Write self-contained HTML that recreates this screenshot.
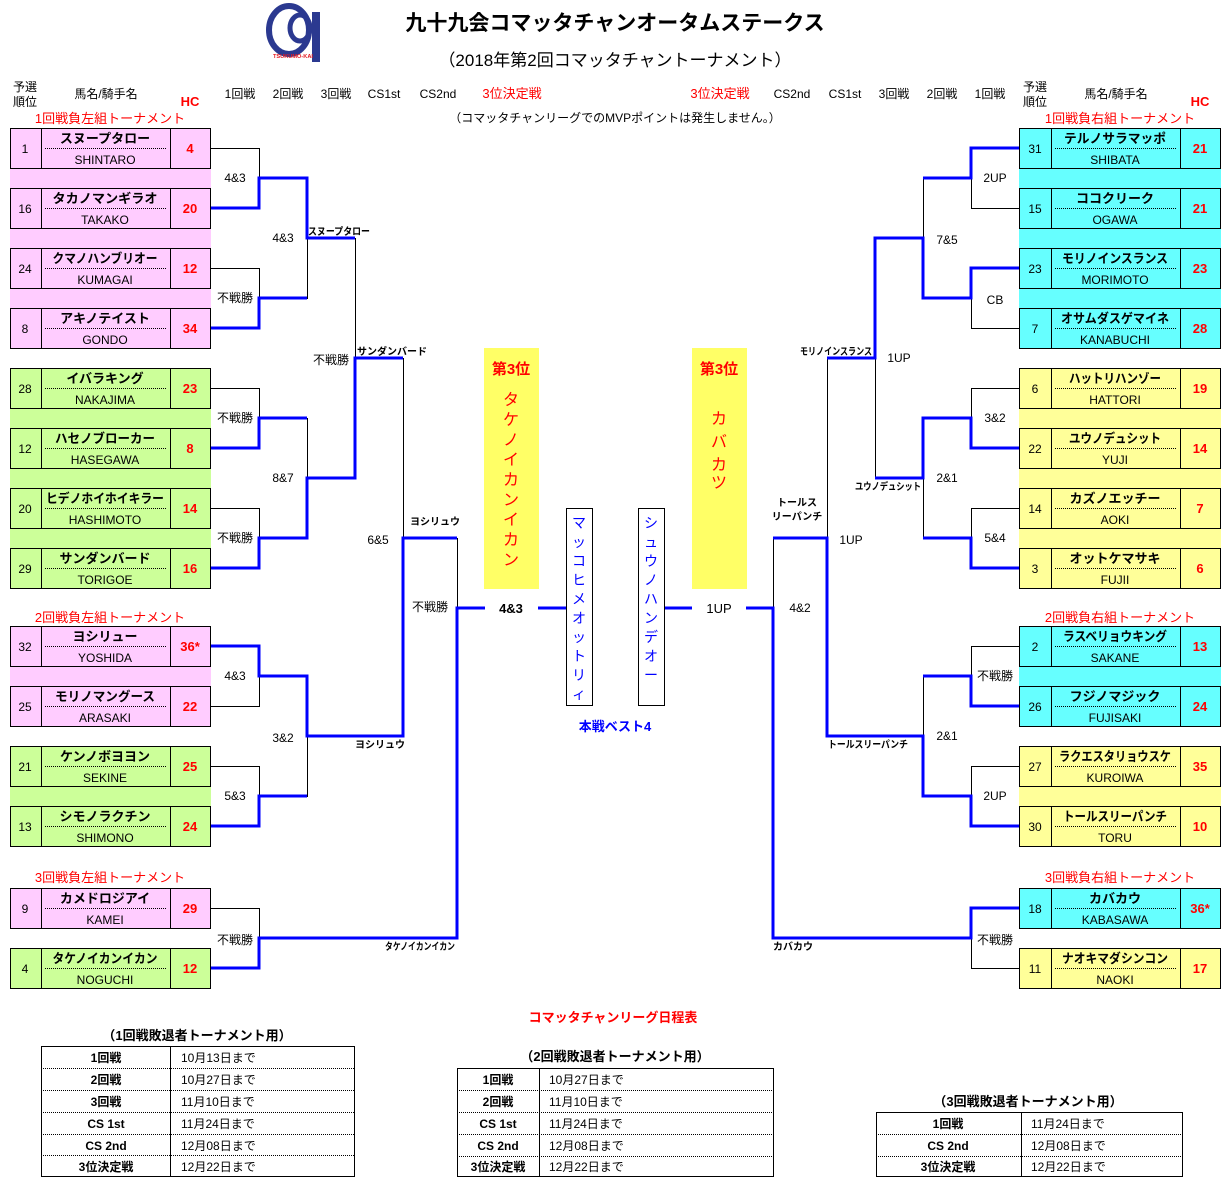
<!DOCTYPE html>
<html><head><meta charset="utf-8"><style>
body{margin:0;background:#fff;}
svg{display:block;font-family:"Liberation Sans","Noto Sans CJK JP",sans-serif;}
text{text-anchor:middle;}
.t{font-size:12px;}
.b{font-weight:bold;}
.nm{font-size:13px;font-weight:bold;}
.jk{font-size:12px;}
.hc{font-size:13px;font-weight:bold;fill:#f00;}
.rd{fill:#f00;}
.bl{stroke:#0000ff;stroke-width:3;fill:none;}
.bk{stroke:#000;stroke-width:1;fill:none;}
.wn{font-size:10px;font-weight:bold;}
</style></head><body>
<svg width="1221" height="1177" viewBox="0 0 1221 1177">
<defs>
<g id="L"><rect x="0.5" y="0.5" width="200" height="40" fill="none" stroke="#000"/><line x1="31.5" y1="0" x2="31.5" y2="40" stroke="#000"/><line x1="160.5" y1="0" x2="160.5" y2="40" stroke="#000"/><line x1="35" y1="20.5" x2="157" y2="20.5" stroke="#000" stroke-dasharray="1,1"/></g>
<g id="R"><rect x="0.5" y="0.5" width="201" height="40" fill="none" stroke="#000"/><line x1="32.5" y1="0" x2="32.5" y2="40" stroke="#000"/><line x1="161.5" y1="0" x2="161.5" y2="40" stroke="#000"/><line x1="36" y1="20.5" x2="158" y2="20.5" stroke="#000" stroke-dasharray="1,1"/></g>
</defs>
<!-- logo -->
<ellipse cx="289" cy="30" rx="20" ry="24" fill="none" stroke="#2b3990" stroke-width="6"/>
<ellipse cx="300" cy="28" rx="10" ry="13" fill="none" stroke="#2b3990" stroke-width="5"/>
<rect x="312" y="12" width="8" height="50" fill="#2b3990"/>
<text x="293" y="58" style="font-size:5px;font-weight:bold" fill="#e31b23" textLength="40" lengthAdjust="spacingAndGlyphs">TSUKUMO-KAI</text>
<text x="615" y="30" style="font-size:21px;font-weight:bold">九十九会コマッタチャンオータムステークス</text>
<text x="615" y="66" style="font-size:17px">（2018年第2回コマッタチャントーナメント）</text>
<!-- headers -->
<text x="25" y="91" class="t">予選</text><text x="25" y="106" class="t">順位</text>
<text x="106" y="98" class="t">馬名/騎手名</text>
<text x="190" y="106" class="hc">HC</text>
<text x="240" y="98" class="t">1回戦</text><text x="288" y="98" class="t">2回戦</text><text x="336" y="98" class="t">3回戦</text>
<text x="384" y="98" class="t">CS1st</text><text x="438" y="98" class="t">CS2nd</text>
<text x="512" y="98" style="font-size:13px" class="rd">3位決定戦</text>
<text x="720" y="98" style="font-size:13px" class="rd">3位決定戦</text>
<text x="792" y="98" class="t">CS2nd</text><text x="845" y="98" class="t">CS1st</text><text x="894" y="98" class="t">3回戦</text><text x="942" y="98" class="t">2回戦</text><text x="990" y="98" class="t">1回戦</text>
<text x="1035" y="91" class="t">予選</text><text x="1035" y="106" class="t">順位</text>
<text x="1116" y="98" class="t">馬名/騎手名</text>
<text x="1200" y="106" class="hc">HC</text>
<text x="615" y="122" class="t">（コマッタチャンリーグでのMVPポイントは発生しません。）</text>
<text x="110" y="123" style="font-size:13px" class="rd">1回戦負左組トーナメント</text>
<text x="1120" y="123" style="font-size:13px" class="rd">1回戦負右組トーナメント</text>
<text x="110" y="622" style="font-size:13px" class="rd">2回戦負左組トーナメント</text>
<text x="1120" y="622" style="font-size:13px" class="rd">2回戦負右組トーナメント</text>
<text x="110" y="882" style="font-size:13px" class="rd">3回戦負左組トーナメント</text>
<text x="1120" y="882" style="font-size:13px" class="rd">3回戦負右組トーナメント</text>
<!-- fills -->
<rect x="10" y="128" width="201" height="221" fill="#ffccff"/>
<rect x="10" y="368" width="201" height="221" fill="#ccff99"/>
<rect x="10" y="626" width="201" height="101" fill="#ffccff"/>
<rect x="10" y="746" width="201" height="101" fill="#ccff99"/>
<rect x="10" y="888" width="201" height="41" fill="#ffccff"/>
<rect x="10" y="948" width="201" height="41" fill="#ccff99"/>
<rect x="1019" y="128" width="202" height="221" fill="#66ffff"/>
<rect x="1019" y="368" width="202" height="221" fill="#ffff99"/>
<rect x="1019" y="626" width="202" height="101" fill="#66ffff"/>
<rect x="1019" y="746" width="202" height="101" fill="#ffff99"/>
<rect x="1019" y="888" width="202" height="41" fill="#66ffff"/>
<rect x="1019" y="948" width="202" height="41" fill="#ffff99"/>
<!-- left entries -->
<g transform="translate(10,128)"><use href="#L"/><text x="15" y="25" class="t">1</text><text x="95" y="15" class="nm">スヌープタロー</text><text x="95" y="36" class="jk">SHINTARO</text><text x="180" y="25" class="hc">4</text></g>
<g transform="translate(10,188)"><use href="#L"/><text x="15" y="25" class="t">16</text><text x="95" y="15" class="nm" textLength="105" lengthAdjust="spacingAndGlyphs">タカノマンギラオ</text><text x="95" y="36" class="jk">TAKAKO</text><text x="180" y="25" class="hc">20</text></g>
<g transform="translate(10,248)"><use href="#L"/><text x="15" y="25" class="t">24</text><text x="95" y="15" class="nm" textLength="105" lengthAdjust="spacingAndGlyphs">クマノハンブリオー</text><text x="95" y="36" class="jk">KUMAGAI</text><text x="180" y="25" class="hc">12</text></g>
<g transform="translate(10,308)"><use href="#L"/><text x="15" y="25" class="t">8</text><text x="95" y="15" class="nm">アキノテイスト</text><text x="95" y="36" class="jk">GONDO</text><text x="180" y="25" class="hc">34</text></g>
<g transform="translate(10,368)"><use href="#L"/><text x="15" y="25" class="t">28</text><text x="95" y="15" class="nm">イバラキング</text><text x="95" y="36" class="jk">NAKAJIMA</text><text x="180" y="25" class="hc">23</text></g>
<g transform="translate(10,428)"><use href="#L"/><text x="15" y="25" class="t">12</text><text x="95" y="15" class="nm" textLength="100" lengthAdjust="spacingAndGlyphs">ハセノブローカー</text><text x="95" y="36" class="jk">HASEGAWA</text><text x="180" y="25" class="hc">8</text></g>
<g transform="translate(10,488)"><use href="#L"/><text x="15" y="25" class="t">20</text><text x="95" y="15" class="nm" textLength="118" lengthAdjust="spacingAndGlyphs">ヒデノホイホイキラー</text><text x="95" y="36" class="jk">HASHIMOTO</text><text x="180" y="25" class="hc">14</text></g>
<g transform="translate(10,548)"><use href="#L"/><text x="15" y="25" class="t">29</text><text x="95" y="15" class="nm">サンダンバード</text><text x="95" y="36" class="jk">TORIGOE</text><text x="180" y="25" class="hc">16</text></g>
<g transform="translate(10,626)"><use href="#L"/><text x="15" y="25" class="t">32</text><text x="95" y="15" class="nm">ヨシリュー</text><text x="95" y="36" class="jk">YOSHIDA</text><text x="180" y="25" class="hc">36*</text></g>
<g transform="translate(10,686)"><use href="#L"/><text x="15" y="25" class="t">25</text><text x="95" y="15" class="nm" textLength="100" lengthAdjust="spacingAndGlyphs">モリノマングース</text><text x="95" y="36" class="jk">ARASAKI</text><text x="180" y="25" class="hc">22</text></g>
<g transform="translate(10,746)"><use href="#L"/><text x="15" y="25" class="t">21</text><text x="95" y="15" class="nm">ケンノボヨヨン</text><text x="95" y="36" class="jk">SEKINE</text><text x="180" y="25" class="hc">25</text></g>
<g transform="translate(10,806)"><use href="#L"/><text x="15" y="25" class="t">13</text><text x="95" y="15" class="nm">シモノラクチン</text><text x="95" y="36" class="jk">SHIMONO</text><text x="180" y="25" class="hc">24</text></g>
<g transform="translate(10,888)"><use href="#L"/><text x="15" y="25" class="t">9</text><text x="95" y="15" class="nm">カメドロジアイ</text><text x="95" y="36" class="jk">KAMEI</text><text x="180" y="25" class="hc">29</text></g>
<g transform="translate(10,948)"><use href="#L"/><text x="15" y="25" class="t">4</text><text x="95" y="15" class="nm" textLength="105" lengthAdjust="spacingAndGlyphs">タケノイカンイカン</text><text x="95" y="36" class="jk">NOGUCHI</text><text x="180" y="25" class="hc">12</text></g>
<!-- right entries -->
<g transform="translate(1019,128)"><use href="#R"/><text x="16" y="25" class="t">31</text><text x="96" y="15" class="nm" textLength="102" lengthAdjust="spacingAndGlyphs">テルノサラマッポ</text><text x="96" y="36" class="jk">SHIBATA</text><text x="181" y="25" class="hc">21</text></g>
<g transform="translate(1019,188)"><use href="#R"/><text x="16" y="25" class="t">15</text><text x="96" y="15" class="nm">ココクリーク</text><text x="96" y="36" class="jk">OGAWA</text><text x="181" y="25" class="hc">21</text></g>
<g transform="translate(1019,248)"><use href="#R"/><text x="16" y="25" class="t">23</text><text x="96" y="15" class="nm" textLength="106" lengthAdjust="spacingAndGlyphs">モリノインスランス</text><text x="96" y="36" class="jk">MORIMOTO</text><text x="181" y="25" class="hc">23</text></g>
<g transform="translate(1019,308)"><use href="#R"/><text x="16" y="25" class="t">7</text><text x="96" y="15" class="nm" textLength="108" lengthAdjust="spacingAndGlyphs">オサムダスゲマイネ</text><text x="96" y="36" class="jk">KANABUCHI</text><text x="181" y="25" class="hc">28</text></g>
<g transform="translate(1019,368)"><use href="#R"/><text x="16" y="25" class="t">6</text><text x="96" y="15" class="nm" textLength="92" lengthAdjust="spacingAndGlyphs">ハットリハンゾー</text><text x="96" y="36" class="jk">HATTORI</text><text x="181" y="25" class="hc">19</text></g>
<g transform="translate(1019,428)"><use href="#R"/><text x="16" y="25" class="t">22</text><text x="96" y="15" class="nm" textLength="92" lengthAdjust="spacingAndGlyphs">ユウノデュシット</text><text x="96" y="36" class="jk">YUJI</text><text x="181" y="25" class="hc">14</text></g>
<g transform="translate(1019,488)"><use href="#R"/><text x="16" y="25" class="t">14</text><text x="96" y="15" class="nm">カズノエッチー</text><text x="96" y="36" class="jk">AOKI</text><text x="181" y="25" class="hc">7</text></g>
<g transform="translate(1019,548)"><use href="#R"/><text x="16" y="25" class="t">3</text><text x="96" y="15" class="nm">オットケマサキ</text><text x="96" y="36" class="jk">FUJII</text><text x="181" y="25" class="hc">6</text></g>
<g transform="translate(1019,626)"><use href="#R"/><text x="16" y="25" class="t">2</text><text x="96" y="15" class="nm" textLength="104" lengthAdjust="spacingAndGlyphs">ラスベリョウキング</text><text x="96" y="36" class="jk">SAKANE</text><text x="181" y="25" class="hc">13</text></g>
<g transform="translate(1019,686)"><use href="#R"/><text x="16" y="25" class="t">26</text><text x="96" y="15" class="nm">フジノマジック</text><text x="96" y="36" class="jk">FUJISAKI</text><text x="181" y="25" class="hc">24</text></g>
<g transform="translate(1019,746)"><use href="#R"/><text x="16" y="25" class="t">27</text><text x="96" y="15" class="nm" textLength="112" lengthAdjust="spacingAndGlyphs">ラクエスタリョウスケ</text><text x="96" y="36" class="jk">KUROIWA</text><text x="181" y="25" class="hc">35</text></g>
<g transform="translate(1019,806)"><use href="#R"/><text x="16" y="25" class="t">30</text><text x="96" y="15" class="nm" textLength="104" lengthAdjust="spacingAndGlyphs">トールスリーパンチ</text><text x="96" y="36" class="jk">TORU</text><text x="181" y="25" class="hc">10</text></g>
<g transform="translate(1019,888)"><use href="#R"/><text x="16" y="25" class="t">18</text><text x="96" y="15" class="nm">カバカウ</text><text x="96" y="36" class="jk">KABASAWA</text><text x="181" y="25" class="hc">36*</text></g>
<g transform="translate(1019,948)"><use href="#R"/><text x="16" y="25" class="t">11</text><text x="96" y="15" class="nm" textLength="106" lengthAdjust="spacingAndGlyphs">ナオキマダシンコン</text><text x="96" y="36" class="jk">NAOKI</text><text x="181" y="25" class="hc">17</text></g>
<!-- left black lines -->
<path class="bk" d="M211 148.5H259.5V208.5H211M211 268.5H259.5V328.5H211M211 388.5H259.5V448.5H211M211 508.5H259.5V568.5H211M211 646.5H259.5V706.5H211M211 766.5H259.5V826.5H211M211 908.5H259.5V968.5H211"/>
<path class="bk" d="M259 178.5H307.5V298.5H259M259 418.5H307.5V538.5H259M259 676.5H307.5V796.5H259M307 238.5H355.5V478.5H307M355 358.5H403.5V736.5H307M403 538.5H457.5V938.5H259"/>
<!-- left blue -->
<path class="bl" d="M211 208H259V178H307V238H355"/>
<path class="bl" d="M211 328H259V298H307"/>
<path class="bl" d="M211 448H259V418H307"/>
<path class="bl" d="M211 568H259V538H307V478H355V358H403"/>
<path class="bl" d="M211 646H259V676H307V736H403V538H457"/>
<path class="bl" d="M211 826H259V796H307"/>
<path class="bl" d="M211 968H259V938H457V608H485"/>
<path class="bl" d="M538 608H566M665 608H692"/>
<!-- right black -->
<path class="bk" d="M1019 148.5H971.5V208.5H1019M1019 268.5H971.5V328.5H1019M1019 388.5H971.5V448.5H1019M1019 508.5H971.5V568.5H1019M1019 646.5H971.5V706.5H1019M1019 766.5H971.5V826.5H1019M1019 908.5H971.5V968.5H1019"/>
<path class="bk" d="M971 178.5H923.5V298.5H971M971 418.5H923.5V538.5H971M971 676.5H923.5V796.5H971M923 238.5H875.5V478.5H923M875 358.5H827.5V736.5H923M827 538.5H773.5V938.5H971"/>
<!-- right blue -->
<path class="bl" d="M1019 148H971V178H923"/>
<path class="bl" d="M1019 268H971V298H923V238H875V358H827"/>
<path class="bl" d="M1019 448H971V418H923V478H875"/>
<path class="bl" d="M1019 568H971V538H923"/>
<path class="bl" d="M1019 706H971V676H923"/>
<path class="bl" d="M1019 826H971V796H923V736H827V538H773"/>
<path class="bl" d="M1019 908H971V938H773V608H746"/>
<!-- score labels left -->
<text x="235" y="182" class="t">4&amp;3</text><text x="235" y="302" class="t">不戦勝</text><text x="235" y="422" class="t">不戦勝</text><text x="235" y="542" class="t">不戦勝</text>
<text x="235" y="680" class="t">4&amp;3</text><text x="235" y="800" class="t">5&amp;3</text><text x="235" y="944" class="t">不戦勝</text>
<text x="283" y="242" class="t">4&amp;3</text><text x="283" y="482" class="t">8&amp;7</text><text x="283" y="742" class="t">3&amp;2</text>
<text x="331" y="364" class="t">不戦勝</text><text x="378" y="544" class="t">6&amp;5</text><text x="430" y="611" class="t">不戦勝</text>
<text x="511" y="613" style="font-size:13px;font-weight:bold">4&amp;3</text>
<text x="719" y="613" style="font-size:13px">1UP</text>
<!-- winner labels left -->
<text x="339" y="235" class="wn" textLength="62" lengthAdjust="spacingAndGlyphs">スヌープタロー</text>
<text x="392" y="355" class="wn" textLength="70" lengthAdjust="spacingAndGlyphs">サンダンバード</text>
<text x="435" y="525" class="wn">ヨシリュウ</text>
<text x="380" y="748" class="wn">ヨシリュウ</text>
<text x="420" y="950" class="wn" textLength="70" lengthAdjust="spacingAndGlyphs">タケノイカンイカン</text>
<!-- right labels -->
<text x="995" y="182" class="t">2UP</text><text x="995" y="304" class="t">CB</text><text x="995" y="422" class="t">3&amp;2</text><text x="995" y="542" class="t">5&amp;4</text>
<text x="995" y="680" class="t">不戦勝</text><text x="995" y="800" class="t">2UP</text><text x="995" y="944" class="t">不戦勝</text>
<text x="947" y="244" class="t">7&amp;5</text><text x="947" y="482" class="t">2&amp;1</text><text x="947" y="740" class="t">2&amp;1</text>
<text x="899" y="362" class="t">1UP</text><text x="851" y="544" class="t">1UP</text><text x="800" y="612" class="t">4&amp;2</text>
<text x="836" y="355" class="wn" textLength="72" lengthAdjust="spacingAndGlyphs">モリノインスランス</text>
<text x="888" y="490" class="wn" textLength="66" lengthAdjust="spacingAndGlyphs">ユウノデュシット</text>
<text x="797" y="506" class="wn">トールス</text><text x="797" y="520" class="wn">リーパンチ</text>
<text x="868" y="748" class="wn" textLength="80" lengthAdjust="spacingAndGlyphs">トールスリーパンチ</text>
<text x="793" y="950" class="wn">カバカウ</text>
<!-- center -->
<rect x="484" y="348" width="55" height="241" fill="#ffff66"/>
<rect x="692" y="348" width="55" height="241" fill="#ffff66"/>
<text x="511" y="374" style="font-size:15px;font-weight:bold" class="rd">第3位</text>
<text x="719" y="374" style="font-size:15px;font-weight:bold" class="rd">第3位</text>
<g style="font-size:16px" class="rd">
<text x="511" y="405">タ</text><text x="511" y="425">ケ</text><text x="511" y="445">ノ</text><text x="511" y="465">イ</text><text x="511" y="485">カ</text><text x="511" y="505">ン</text><text x="511" y="525">イ</text><text x="511" y="545">カ</text><text x="511" y="565">ン</text>
<text x="719" y="424">カ</text><text x="719" y="447">バ</text><text x="719" y="470">カ</text><text x="719" y="488">ツ</text>
</g>
<rect x="566.5" y="508.5" width="26" height="197" fill="#fff" stroke="#000"/>
<rect x="638.5" y="508.5" width="26" height="197" fill="#fff" stroke="#000"/>
<g style="font-size:14px" fill="#0000ff">
<text x="579" y="528">マ</text><text x="579" y="547">ッ</text><text x="579" y="566">コ</text><text x="579" y="585">ヒ</text><text x="579" y="604">メ</text><text x="579" y="623">オ</text><text x="579" y="642">ッ</text><text x="579" y="661">ト</text><text x="579" y="680">リ</text><text x="579" y="699">ィ</text>
<text x="651" y="528">シ</text><text x="651" y="547">ュ</text><text x="651" y="566">ウ</text><text x="651" y="585">ノ</text><text x="651" y="604">ハ</text><text x="651" y="623">ン</text><text x="651" y="642">デ</text><text x="651" y="661">オ</text><text x="651" y="680">ー</text>
</g>
<text x="615" y="731" style="font-size:13px;font-weight:bold" fill="#0000ff">本戦ベスト4</text>
<!-- schedule -->
<text x="613" y="1022" style="font-size:13px;font-weight:bold" class="rd">コマッタチャンリーグ日程表</text>
<text x="197" y="1040" style="font-size:13px;font-weight:bold">（1回戦敗退者トーナメント用）</text>
<g transform="translate(41,1046)">
<rect x="0.5" y="0.5" width="313" height="130" fill="none" stroke="#000"/><line x1="129.5" y1="0" x2="129.5" y2="130" stroke="#000"/>
<path d="M0 22.5H313M0 44.5H313M0 66.5H313M0 88.5H313M0 109.5H313" stroke="#000" stroke-dasharray="1,1"/>
<g style="font-size:12px;font-weight:bold"><text x="65" y="16">1回戦</text><text x="65" y="38">2回戦</text><text x="65" y="60">3回戦</text><text x="65" y="82">CS 1st</text><text x="65" y="104">CS 2nd</text><text x="65" y="125">3位決定戦</text></g>
<g style="font-size:12px"><text x="140" y="16" style="text-anchor:start">10月13日まで</text><text x="140" y="38" style="text-anchor:start">10月27日まで</text><text x="140" y="60" style="text-anchor:start">11月10日まで</text><text x="140" y="82" style="text-anchor:start">11月24日まで</text><text x="140" y="104" style="text-anchor:start">12月08日まで</text><text x="140" y="125" style="text-anchor:start">12月22日まで</text></g>
</g>
<text x="615" y="1061" style="font-size:13px;font-weight:bold">（2回戦敗退者トーナメント用）</text>
<g transform="translate(457,1068)">
<rect x="0.5" y="0.5" width="316" height="108" fill="none" stroke="#000"/><line x1="82.5" y1="0" x2="82.5" y2="108" stroke="#000"/>
<path d="M0 22.5H316M0 44.5H316M0 66.5H316M0 88.5H316" stroke="#000" stroke-dasharray="1,1"/>
<g style="font-size:12px;font-weight:bold"><text x="41" y="16">1回戦</text><text x="41" y="38">2回戦</text><text x="41" y="60">CS 1st</text><text x="41" y="82">CS 2nd</text><text x="41" y="103">3位決定戦</text></g>
<g style="font-size:12px"><text x="92" y="16" style="text-anchor:start">10月27日まで</text><text x="92" y="38" style="text-anchor:start">11月10日まで</text><text x="92" y="60" style="text-anchor:start">11月24日まで</text><text x="92" y="82" style="text-anchor:start">12月08日まで</text><text x="92" y="103" style="text-anchor:start">12月22日まで</text></g>
</g>
<text x="1028" y="1106" style="font-size:13px;font-weight:bold">（3回戦敗退者トーナメント用）</text>
<g transform="translate(876,1112)">
<rect x="0.5" y="0.5" width="306" height="64" fill="none" stroke="#000"/><line x1="145.5" y1="0" x2="145.5" y2="64" stroke="#000"/>
<path d="M0 22.5H306M0 44.5H306" stroke="#000" stroke-dasharray="1,1"/>
<g style="font-size:12px;font-weight:bold"><text x="72" y="16">1回戦</text><text x="72" y="38">CS 2nd</text><text x="72" y="59">3位決定戦</text></g>
<g style="font-size:12px"><text x="155" y="16" style="text-anchor:start">11月24日まで</text><text x="155" y="38" style="text-anchor:start">12月08日まで</text><text x="155" y="59" style="text-anchor:start">12月22日まで</text></g>
</g>
</svg>
</body></html>
